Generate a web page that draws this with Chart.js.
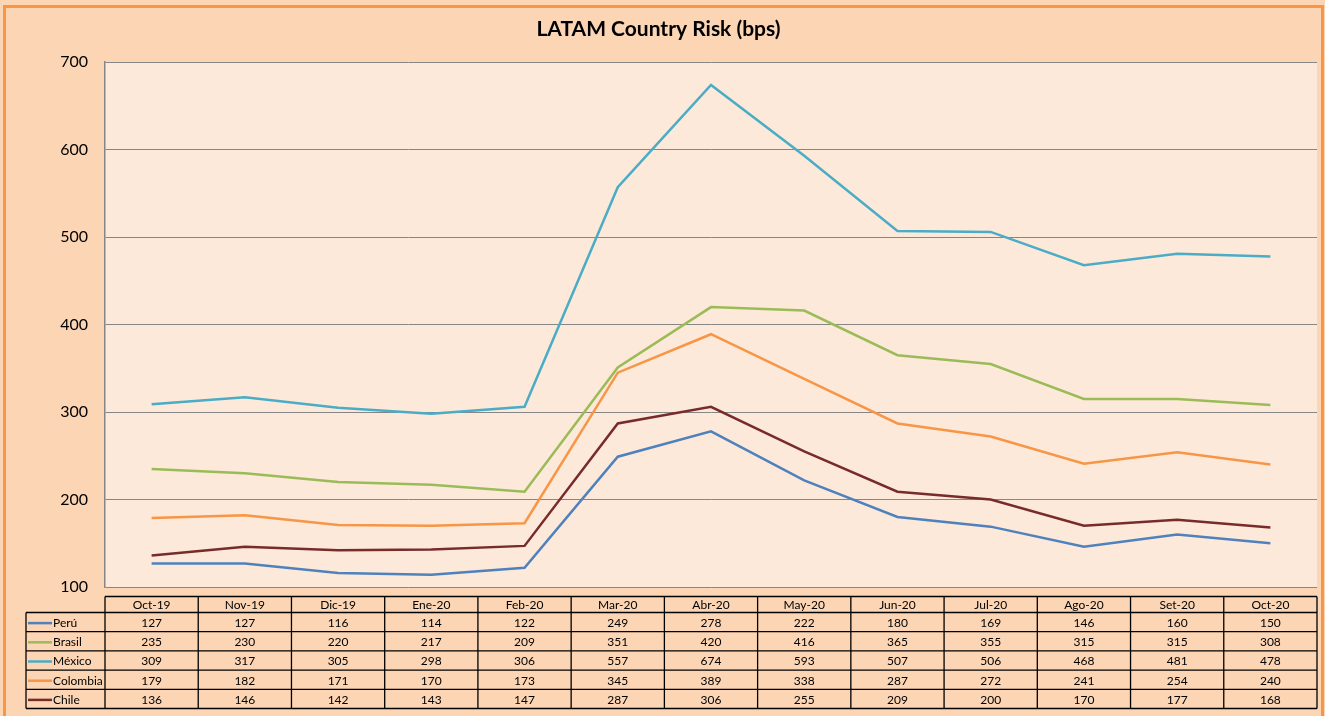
<!DOCTYPE html>
<html>
<head>
<meta charset="utf-8">
<script src="https://cdn.jsdelivr.net/npm/chart.js@4"></script>
<style>
  html, body { margin: 0; padding: 0; background: #FCD5B4; }
  canvas { display: block; }
</style>
</head>
<body>
<canvas id="risk-chart" width="1325" height="716"></canvas>
<script>
// Data
const months = ['Oct-19', 'Nov-19', 'Dic-19', 'Ene-20', 'Feb-20', 'Mar-20', 'Abr-20',
                'May-20', 'Jun-20', 'Jul-20', 'Ago-20', 'Set-20', 'Oct-20'];
const peru     = [127, 127, 116, 114, 122, 249, 278, 222, 180, 169, 146, 160, 150];
const brasil   = [235, 230, 220, 217, 209, 351, 420, 416, 365, 355, 315, 315, 308];
const mexico   = [309, 317, 305, 298, 306, 557, 674, 593, 507, 506, 468, 481, 478];
const colombia = [179, 182, 171, 170, 173, 345, 389, 338, 287, 272, 241, 254, 240];
const chile    = [136, 146, 142, 143, 147, 287, 306, 255, 209, 200, 170, 177, 168];
const countries = ['Perú', 'Brasil', 'México', 'Colombia', 'Chile'];
const colors = ['#4F81BD', '#9BBB59', '#4BACC6', '#F79646', '#772C2A'];

const FONT = 'Lato, "Open Sans", sans-serif';

// Page background, frame and plot area fill
const backgroundPlugin = {
    id: 'background',
    beforeDraw(chart) {
        const ctx = chart.ctx;
        const area = chart.chartArea;
        ctx.save();
        ctx.fillStyle = '#FCD5B4';
        ctx.fillRect(0, 0, chart.width, chart.height);
        ctx.strokeStyle = '#F79646';
        ctx.lineWidth = 3;
        ctx.strokeRect(4.5, 6.5, chart.width - 7, chart.height + 10);
        ctx.fillStyle = '#FDE9D9';
        ctx.fillRect(area.left, area.top, area.right - area.left, area.bottom - area.top);
        ctx.restore();
    }
};

// Data table under the plot, columns follow the x scale
const dataTablePlugin = {
    id: 'dataTable',
    afterDraw(chart) {
        const ctx = chart.ctx;
        const x = chart.scales.x;
        const area = chart.chartArea;
        const slot = (area.right - area.left) / months.length;
        const headTop = 596.5;
        const headH = 16;
        const rowH = 19.2;
        const legendLeft = 26;
        const series = chart.data.datasets;
        const tableBottom = headTop + headH + rowH * series.length;

        ctx.save();
        ctx.strokeStyle = '#000';
        ctx.lineWidth = 1.3;
        ctx.fillStyle = '#000';
        ctx.font = '12px ' + FONT;
        ctx.textBaseline = 'middle';

        // header row
        ctx.textAlign = 'center';
        months.forEach((m, i) => {
            const cx = x.getPixelForValue(i);
            ctx.fillText(m, cx, headTop + headH / 2 + 1);
        });

        // horizontal lines
        ctx.beginPath();
        ctx.moveTo(area.left, headTop);
        ctx.lineTo(area.right, headTop);
        for (let r = 0; r <= series.length; r++) {
            const y = headTop + headH + r * rowH;
            ctx.moveTo(legendLeft, y);
            ctx.lineTo(area.right, y);
        }
        // vertical lines
        ctx.moveTo(legendLeft, headTop + headH);
        ctx.lineTo(legendLeft, tableBottom);
        for (let i = 0; i <= months.length; i++) {
            const lx = area.left + i * slot;
            ctx.moveTo(lx, headTop);
            ctx.lineTo(lx, tableBottom);
        }
        ctx.stroke();

        // rows
        series.forEach((ds, r) => {
            const cy = headTop + headH + r * rowH + rowH / 2 + 1;
            ctx.strokeStyle = ds.borderColor;
            ctx.lineWidth = 2.5;
            ctx.beginPath();
            ctx.moveTo(legendLeft + 2, cy);
            ctx.lineTo(legendLeft + 26, cy);
            ctx.stroke();
            ctx.textAlign = 'left';
            ctx.fillText(ds.label, legendLeft + 27, cy);
            ctx.textAlign = 'center';
            ds.data.forEach((v, i) => {
                ctx.fillText(String(v), x.getPixelForValue(i), cy);
            });
        });
        ctx.restore();
    }
};

const seriesData = [peru, brasil, mexico, colombia, chile];

const ctx = document.getElementById('risk-chart').getContext('2d');
const chart = new Chart(ctx, {
    type: 'line',
    data: {
        labels: months,
        datasets: countries.map((name, i) => ({
            label: name,
            data: seriesData[i],
            borderColor: colors[i],
            backgroundColor: colors[i],
            borderWidth: 2.5,
            pointRadius: 0,
            tension: 0
        }))
    },
    options: {
        responsive: false,
        animation: false,
        layout: {
            padding: { left: 0, right: 8, top: 0, bottom: 121 }
        },
        plugins: {
            legend: { display: false },
            tooltip: { enabled: false },
            title: {
                display: true,
                text: 'LATAM Country Risk (bps)',
                color: '#000',
                font: { family: FONT, size: 21, weight: 'bold' },
                padding: { top: 17, bottom: 20 }
            }
        },
        scales: {
            x: {
                type: 'category',
                offset: true,
                grid: { display: false },
                border: { display: false },
                ticks: { display: false }
            },
            y: {
                min: 100,
                max: 700,
                ticks: {
                    stepSize: 100,
                    color: '#000',
                    font: { family: FONT, size: 16 },
                    padding: 17
                },
                grid: { color: '#868686', lineWidth: 1, drawTicks: false },
                border: { display: true, color: '#868686', width: 1.5 },
                afterFit(scale) { scale.width = 105; }
            }
        }
    },
    plugins: [backgroundPlugin, dataTablePlugin]
});
</script>
</body>
</html>
